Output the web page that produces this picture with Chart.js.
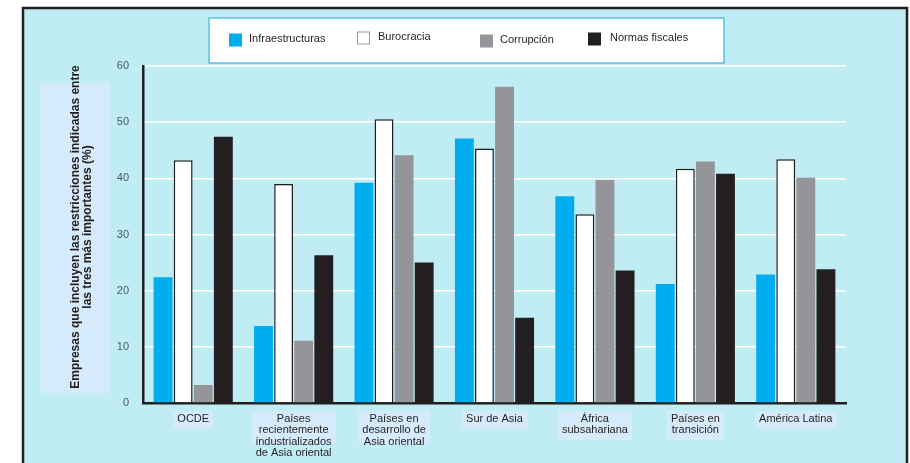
<!DOCTYPE html>
<html>
<head>
<meta charset="utf-8">
<script src="https://cdn.jsdelivr.net/npm/chart.js@4/dist/chart.umd.min.js"></script>
<style>
  html, body { margin: 0; padding: 0; background: #fff; }
  #wrap { width: 910px; height: 463px; position: relative; }
</style>
</head>
<body>
<div id="wrap"><canvas id="chart"></canvas></div>
<script>
const regiones = [
  'OCDE',
  ['Países', 'recientemente', 'industrializados', 'de Asia oriental'],
  ['Países en', 'desarrollo de', 'Asia oriental'],
  'Sur de Asia',
  ['África', 'subsahariana'],
  ['Países en', 'transición'],
  'América Latina'
];
const infraestructuras = [22.4, 13.7, 39.2, 47.1, 36.8, 21.2, 22.9];
const burocracia = [43.2, 39.0, 50.5, 45.3, 33.6, 41.7, 43.4];
const corrupcion = [3.2, 11.1, 44.1, 56.3, 39.7, 43.0, 40.1];
const normasFiscales = [47.4, 26.3, 25.0, 15.2, 23.6, 40.8, 23.8];
const yTicks = [0, 10, 20, 30, 40, 50, 60];

const tituloEje = ['Empresas que incluyen las restricciones indicadas entre', 'las tres más importantes (%)'];

const FONT = '"Liberation Sans", Arial, sans-serif';
const fondo = '#c0ecf3';
const cajaClara = '#d5ebfb';

const decoracion = {
  id: 'decoracion',
  beforeDraw(chart) {
    const ctx = chart.ctx;
    ctx.save();
    // marco
    ctx.fillStyle = fondo;
    ctx.fillRect(23, 8, 884, 470);
    ctx.strokeStyle = '#231f20';
    ctx.lineWidth = 2.5;
    ctx.strokeRect(23, 8, 884, 470);

    // caja del titulo del eje
    ctx.fillStyle = cajaClara;
    ctx.fillRect(40, 83, 70, 310);

    // cajas detras de las etiquetas
    const x = chart.scales.x;
    ctx.font = '11px ' + FONT;
    regiones.forEach((lab, i) => {
      const lines = Array.isArray(lab) ? lab : [lab];
      const w = Math.max(...lines.map(l => ctx.measureText(l).width)) + 8;
      const cx = x.getPixelForTick(i);
      const h = lines.length > 2 ? 33 : lines.length * 11.5 + 6;
      ctx.fillRect(cx - w / 2, 411, w, Math.min(h, 36));
    });

    // caja de la leyenda
    ctx.fillStyle = '#ffffff';
    ctx.fillRect(209, 18, 515, 45);
    ctx.strokeStyle = '#3ab4dc';
    ctx.lineWidth = 1.2;
    ctx.strokeRect(209, 18, 515, 45);
    ctx.restore();
  },
  afterDraw(chart) {
    const ctx = chart.ctx;
    ctx.save();
    // leyenda
    const pos = [[229, 249, 40], [357, 378, 38], [480, 500, 41], [588, 610, 39]];
    ctx.font = '11px ' + FONT;
    ctx.textBaseline = 'middle';
    chart.data.datasets.forEach((ds, i) => {
      const [sx, tx, ty] = pos[i];
      ctx.fillStyle = ds.backgroundColor;
      ctx.fillRect(sx, ty - 6.5, 13, 13);
      if (ds.borderWidth) {
        ctx.strokeStyle = '#9a9a9a';
        ctx.lineWidth = 1;
        ctx.strokeRect(sx + 0.5, ty - 6, 12, 12);
      }
      ctx.fillStyle = '#231f20';
      ctx.fillText(ds.label, tx, ty - 1);
    });

    // titulo del eje vertical
    ctx.translate(82, 227);
    ctx.rotate(-Math.PI / 2);
    ctx.font = 'bold 12px ' + FONT;
    ctx.textAlign = 'center';
    ctx.fillStyle = '#231f20';
    ctx.fillText(tituloEje[0], 0, -6);
    ctx.fillText(tituloEje[1], 0, 6);
    ctx.restore();
  }
};

new Chart(document.getElementById('chart'), {
  type: 'bar',
  data: {
    labels: regiones,
    datasets: [
      { label: 'Infraestructuras', data: infraestructuras, backgroundColor: '#00aeef', borderWidth: 0 },
      { label: 'Burocracia', data: burocracia, backgroundColor: '#ffffff', borderColor: '#231f20', borderWidth: 1.5 },
      { label: 'Corrupción', data: corrupcion, backgroundColor: '#939598', borderWidth: 0 },
      { label: 'Normas fiscales', data: normasFiscales, backgroundColor: '#231f20', borderWidth: 0 }
    ]
  },
  options: {
    responsive: true,
    maintainAspectRatio: false,
    animation: false,
    categoryPercentage: 0.8,
    barPercentage: 0.94,
    layout: { padding: { left: 23, right: 64, top: 66, bottom: 0 } },
    plugins: { legend: { display: false }, tooltip: { enabled: false } },
    scales: {
      x: {
        grid: { display: false, drawTicks: false },
        border: { color: '#231f20', width: 2.5 },
        ticks: {
          color: '#231f20',
          font: { family: FONT, size: 11, lineHeight: 1.05 },
          padding: 10,
          maxRotation: 0,
          autoSkip: false
        },
        afterFit(scale) { scale.height = 60; }
      },
      y: {
        min: 0,
        max: 60,
        afterBuildTicks(scale) { scale.ticks = yTicks.map(v => ({ value: v })); },
        grid: { color: '#ffffff', lineWidth: 1.5, drawTicks: false },
        border: { color: '#231f20', width: 2.5 },
        ticks: {
          color: '#4a5868',
          font: { family: FONT, size: 11 },
          padding: 14
        },
        afterFit(scale) { scale.width = 120; }
      }
    }
  },
  plugins: [decoracion]
});
</script>
</body>
</html>
